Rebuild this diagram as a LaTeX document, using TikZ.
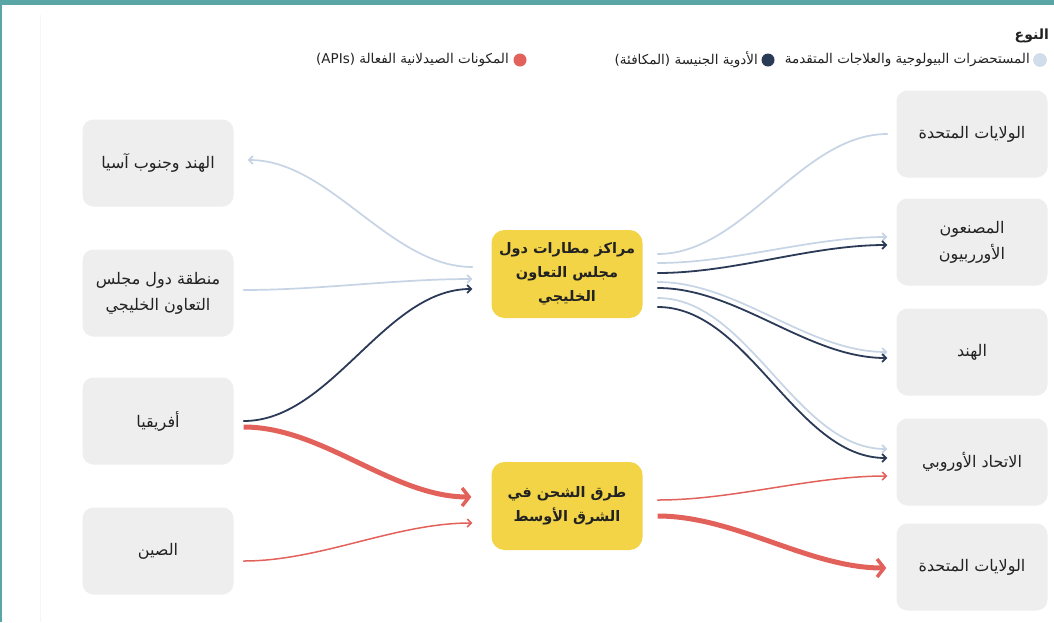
\documentclass[tikz,border=0pt]{standalone}
\usepackage{fontspec}
\setmainfont{DejaVu Sans}
\newfontfamily\ar[Script=Arabic]{DejaVu Sans}
\TeXXeTstate=1
\usetikzlibrary{arrows.meta,calc}
\definecolor{tealb}{HTML}{5AA5A6}
\definecolor{boxgray}{HTML}{EFEEEF}
\definecolor{hubyel}{HTML}{F2D446}
\definecolor{lblue}{HTML}{C6D4E6}
\definecolor{navy}{HTML}{2B3A56}
\definecolor{redf}{HTML}{E2625B}
\definecolor{txt}{HTML}{222222}
\tikzset{
  graybox/.style={rounded corners=11pt, fill=boxgray, minimum width=151pt, minimum height=87pt, align=center, text=txt, font=\ar\fontsize{16}{26}\selectfont, inner sep=0pt},
  hubbox/.style={rounded corners=13pt, fill=hubyel, minimum width=151pt, minimum height=88pt, align=center, text=txt, font=\ar\bfseries\fontsize{14.5}{24}\selectfont, inner sep=0pt},
  flowlight/.style={draw=lblue, line width=1.7pt, line cap=round},
  flownavy/.style={draw=navy, line width=1.8pt, line cap=round},
  flowredthin/.style={draw=redf, line width=1.5pt, line cap=round},
  flowredthick/.style={draw=redf, line width=5pt},
  tipsmall/.style={-{Straight Barb[length=4pt,width=8pt]}},
  tipbig/.style={-{Straight Barb[length=7pt,width=18pt,line width=3.5pt]}},
  lgtext/.style={anchor=east, inner sep=0pt, text=txt, font=\ar\fontsize{13.5}{16}\selectfont},
  lgdot/.style={circle, minimum size=13pt, inner sep=0pt},
  curve/.style={out=0, in=180, looseness=0.85}
}
\begin{document}
\begin{tikzpicture}[x=1pt,y=-1pt]
\useasboundingbox (0,0) rectangle (1054,622);
\fill[white] (0,0) rectangle (1054,622);
\fill[tealb] (0,0) rectangle (1054,5);
\fill[tealb] (0,0) rectangle (1.5,622);
\draw[black!4, line width=1pt] (40,15) -- (40,622);

% legend
\node[anchor=east, inner sep=0pt, text=txt, font=\ar\bfseries\fontsize{14}{16}\selectfont] (lgtitle) at (1049,36) {\beginR النوع\endR};
\node[lgdot, fill=lblue!80, draw=lblue] (dot1) at (1040,60) {};
\node[lgtext] (lg1) at (1030,60) {\beginR المستحضرات البيولوجية والعلاجات المتقدمة\endR};
\node[lgdot, fill=navy] (dot2) at (768,60) {};
\node[lgtext] (lg2) at (758,60) {\beginR الأدوية الجنيسة (المكافئة)\endR};
\node[lgdot, fill=redf] (dot3) at (520,60) {};
\node[lgtext] (lg3) at (509,60) {\beginR المكونات الصيدلانية الفعالة \beginL(APIs)\endL\endR};

% left nodes
\node[graybox] (indsa) at (158,163) {\beginR الهند وجنوب آسيا\endR};
\node[graybox] (gcc) at (158,293) {\beginR منطقة دول مجلس\endR\\\beginR التعاون الخليجي\endR};
\node[graybox] (afr) at (158,421) {\beginR أفريقيا\endR};
\node[graybox] (chn) at (158,551) {\beginR الصين\endR};

% hubs
\node[hubbox] (hub1) at (567,274) {\beginR مراكز مطارات دول\endR\\\beginR مجلس التعاون\endR\\\beginR الخليجي\endR};
\node[hubbox] (hub2) at (567,506) {\beginR طرق الشحن في\endR\\\beginR الشرق الأوسط\endR};

% right nodes
\node[graybox] (us1) at (972,134) {\beginR الولايات المتحدة\endR};
\node[graybox] (eurm) at (972,242) {\beginR المصنعون\endR\\\beginR الأورربيون\endR};
\node[graybox] (ind) at (972,352) {\beginR الهند\endR};
\node[graybox] (eu) at (972,462) {\beginR الاتحاد الأوروبي\endR};
\node[graybox] (us2) at (972,567) {\beginR الولايات المتحدة\endR};

% left flows
\draw[flowlight, tipsmall] ([shift={(-19,-7)}]hub1.west) to[out=180, in=0, looseness=0.85] ([shift={(14,-3)}]indsa.east);
\draw[flowlight, tipsmall] ([shift={(10,-3)}]gcc.east) to[curve] ([shift={(-19,5)}]hub1.west);
\draw[flownavy, tipsmall] ([shift={(10,0)}]afr.east) to[curve] ([shift={(-19,15)}]hub1.west);
\draw[flowredthick, tipbig] ([shift={(10,6)}]afr.east) to[curve] ([shift={(-20,-9)}]hub2.west);
\draw[flowredthin, tipsmall] ([shift={(10,10)}]chn.east) to[curve] ([shift={(-19,17)}]hub2.west);

% right flows from hub1
\draw[flowlight] ([shift={(15,-20)}]hub1.east) to[curve] ([shift={(-9,0)}]us1.west);
\draw[flowlight, tipsmall] ([shift={(15,-11)}]hub1.east) to[curve] ([shift={(-9,-5)}]eurm.west);
\draw[flownavy, tipsmall] ([shift={(15,-1)}]hub1.east) to[curve] ([shift={(-9,3)}]eurm.west);
\draw[flowlight, tipsmall] ([shift={(15,8)}]hub1.east) to[curve] ([shift={(-9,0)}]ind.west);
\draw[flownavy, tipsmall] ([shift={(15,14)}]hub1.east) to[curve] ([shift={(-9,6)}]ind.west);
\draw[flowlight, tipsmall] ([shift={(15,24)}]hub1.east) to[curve] ([shift={(-9,-13)}]eu.west);
\draw[flownavy, tipsmall] ([shift={(15,33)}]hub1.east) to[curve] ([shift={(-9,-4)}]eu.west);

% right flows from hub2
\draw[flowredthin, tipsmall] ([shift={(15,-6)}]hub2.east) to[curve] ([shift={(-9,14)}]eu.west);
\draw[flowredthick, tipbig] ([shift={(15,10)}]hub2.east) to[curve] ([shift={(-10,1)}]us2.west);
\end{tikzpicture}
\end{document}
